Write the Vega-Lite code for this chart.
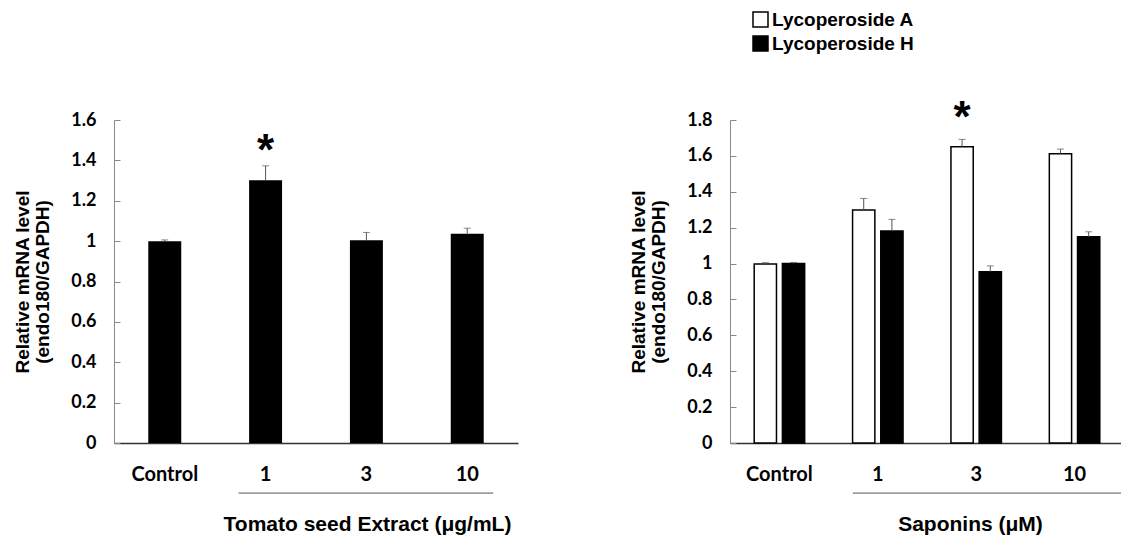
{
  "$schema": "https://vega.github.io/schema/vega-lite/v6.json",
  "autosize": {"type": "none"},
  "padding": {"left": 114, "top": 120, "right": 1007, "bottom": 415},
  "background": "white",
  "bounds": "flush",
  "spacing": 212,
  "datasets": {
    "extract": [
      {"dose": "Control", "mean": 1.0, "upper": 1.006},
      {"dose": "1", "mean": 1.302, "upper": 1.373},
      {"dose": "3", "mean": 1.004, "upper": 1.043},
      {"dose": "10", "mean": 1.037, "upper": 1.064}
    ],
    "saponins": [
      {"dose": "Control", "compound": "Lycoperoside A", "mean": 0.998, "upper": 1.005},
      {"dose": "Control", "compound": "Lycoperoside H", "mean": 1.0, "upper": 1.006},
      {"dose": "1", "compound": "Lycoperoside A", "mean": 1.298, "upper": 1.363},
      {"dose": "1", "compound": "Lycoperoside H", "mean": 1.182, "upper": 1.246},
      {"dose": "3", "compound": "Lycoperoside A", "mean": 1.651, "upper": 1.692},
      {"dose": "3", "compound": "Lycoperoside H", "mean": 0.954, "upper": 0.987},
      {"dose": "10", "compound": "Lycoperoside A", "mean": 1.612, "upper": 1.638},
      {"dose": "10", "compound": "Lycoperoside H", "mean": 1.149, "upper": 1.177}
    ],
    "extractNote": [{"dose": "1", "label": "*", "pos": 1.375}],
    "saponinsNote": [{"dose": "3", "compound": "Lycoperoside A", "label": "*", "pos": 1.733}],
    "extractBracket": [{"from": "1", "to": "10", "level": -0.248}],
    "saponinsBracket": [{"from": "1", "to": "10", "level": -0.279}]
  },
  "config": {
    "view": {"stroke": null},
    "axisY": {
      "domainColor": "#888", "domainWidth": 1, "tickColor": "#888", "tickSize": -6,
      "labelPadding": 24, "labelFont": "Lato", "labelFontWeight": "bold", "labelFontSize": 18,
      "labelColor": "black", "grid": false, "format": "~g", "labelOverlap": false,
      "titleFont": "Liberation Sans", "titleFontSize": 19, "titleFontWeight": "bold",
      "titleColor": "black", "titleLineHeight": 20, "titleX": -92, "titleY": 161.5,
      "titleBaseline": "middle"
    },
    "axisX": {
      "domainColor": "#333", "domainWidth": 1.5, "ticks": false, "labelPadding": 21,
      "labelFont": "Lato", "labelFontWeight": "bold", "labelFontSize": 20, "labelColor": "black",
      "labelAngle": 0, "grid": false,
      "titleFont": "Liberation Sans", "titleFontSize": 21, "titleFontWeight": "bold",
      "titleColor": "black", "titleBaseline": "alphabetic", "titleY": 87
    }
  },
  "hconcat": [
    {
      "width": 404,
      "height": 323,
      "layer": [
        {
          "data": {"name": "extract"},
          "mark": {"type": "bar", "color": "black"},
          "encoding": {
            "x": {
              "field": "dose", "type": "nominal",
              "scale": {"domain": ["Control", "1", "3", "10"], "paddingInner": 0.673, "paddingOuter": 0.34},
              "axis": {"title": "Tomato seed Extract (μg/mL)", "titleX": 253}
            },
            "y": {
              "field": "mean", "type": "quantitative",
              "scale": {"domain": [0, 1.6], "nice": false},
              "axis": {"title": ["Relative mRNA level", "(endo180/GAPDH)"], "values": [0, 0.2, 0.4, 0.6, 0.8, 1, 1.2, 1.4, 1.6], "tickCount": 12, "labelOverlap": false}
            }
          }
        },
        {
          "data": {"name": "extract"},
          "mark": {"type": "rule", "color": "#555", "strokeWidth": 1},
          "encoding": {
            "x": {"field": "dose", "type": "nominal"},
            "y": {"field": "mean", "type": "quantitative"},
            "y2": {"field": "upper"}
          }
        },
        {
          "data": {"name": "extract"},
          "mark": {"type": "tick", "color": "#555", "size": 7, "thickness": 1},
          "encoding": {
            "x": {"field": "dose", "type": "nominal"},
            "y": {"field": "upper", "type": "quantitative"}
          }
        },
        {
          "data": {"name": "extractNote"},
          "mark": {"type": "text", "font": "Liberation Sans", "fontWeight": "bold", "fontSize": 44, "baseline": "alphabetic", "color": "black"},
          "encoding": {
            "x": {"field": "dose", "type": "nominal"},
            "y": {"field": "pos", "type": "quantitative"},
            "text": {"field": "label"}
          }
        },
        {
          "data": {"name": "extractBracket"},
          "mark": {"type": "rule", "color": "#555", "strokeWidth": 1, "xOffset": -27, "x2Offset": 26, "clip": false},
          "encoding": {
            "x": {"field": "from", "type": "nominal"},
            "x2": {"field": "to"},
            "y": {"field": "level", "type": "quantitative"}
          }
        }
      ]
    },
    {
      "width": 394,
      "height": 323,
      "layer": [
        {
          "data": {"name": "saponins"},
          "mark": {"type": "bar", "stroke": "black", "strokeWidth": 1.5},
          "encoding": {
            "x": {
              "field": "dose", "type": "nominal",
              "scale": {"domain": ["Control", "1", "3", "10"], "paddingInner": 0.487, "paddingOuter": 0.246},
              "axis": {"title": "Saponins (μM)", "titleX": 240}
            },
            "xOffset": {
              "field": "compound", "type": "nominal",
              "scale": {"domain": ["Lycoperoside A", "Lycoperoside H"], "paddingInner": 0.21, "paddingOuter": 0}
            },
            "y": {
              "field": "mean", "type": "quantitative",
              "scale": {"domain": [0, 1.8], "nice": false},
              "axis": {"title": ["Relative mRNA level", "(endo180/GAPDH)"], "values": [0, 0.2, 0.4, 0.6, 0.8, 1, 1.2, 1.4, 1.6, 1.8], "tickCount": 12, "labelOverlap": false}
            },
            "fill": {
              "field": "compound", "type": "nominal",
              "scale": {"domain": ["Lycoperoside A", "Lycoperoside H"], "range": ["white", "black"]},
              "legend": {
                "orient": "none", "legendX": 637, "legendY": -110, "title": null,
                "symbolType": "square", "symbolSize": 225, "symbolStrokeColor": "black",
                "symbolStrokeWidth": 1.5, "symbolOpacity": 1,
                "labelFont": "Liberation Sans", "labelFontWeight": "bold", "labelFontSize": 19,
                "labelColor": "black", "labelOffset": 2, "rowPadding": 3, "padding": 0
              }
            }
          }
        },
        {
          "data": {"name": "saponins"},
          "mark": {"type": "rule", "color": "#555", "strokeWidth": 1},
          "encoding": {
            "x": {"field": "dose", "type": "nominal"},
            "xOffset": {"field": "compound", "type": "nominal"},
            "y": {"field": "mean", "type": "quantitative"},
            "y2": {"field": "upper"}
          }
        },
        {
          "data": {"name": "saponins"},
          "mark": {"type": "tick", "color": "#555", "size": 7, "thickness": 1},
          "encoding": {
            "x": {"field": "dose", "type": "nominal"},
            "xOffset": {"field": "compound", "type": "nominal"},
            "y": {"field": "upper", "type": "quantitative"}
          }
        },
        {
          "data": {"name": "saponinsNote"},
          "mark": {"type": "text", "font": "Liberation Sans", "fontWeight": "bold", "fontSize": 44, "baseline": "alphabetic", "color": "black"},
          "encoding": {
            "x": {"field": "dose", "type": "nominal"},
            "xOffset": {"field": "compound", "type": "nominal"},
            "y": {"field": "pos", "type": "quantitative"},
            "text": {"field": "label"}
          }
        },
        {
          "data": {"name": "saponinsBracket"},
          "mark": {"type": "rule", "color": "#555", "strokeWidth": 1, "xOffset": -25, "x2Offset": 50, "clip": false},
          "encoding": {
            "x": {"field": "from", "type": "nominal"},
            "x2": {"field": "to"},
            "y": {"field": "level", "type": "quantitative"}
          }
        }
      ]
    }
  ]
}
